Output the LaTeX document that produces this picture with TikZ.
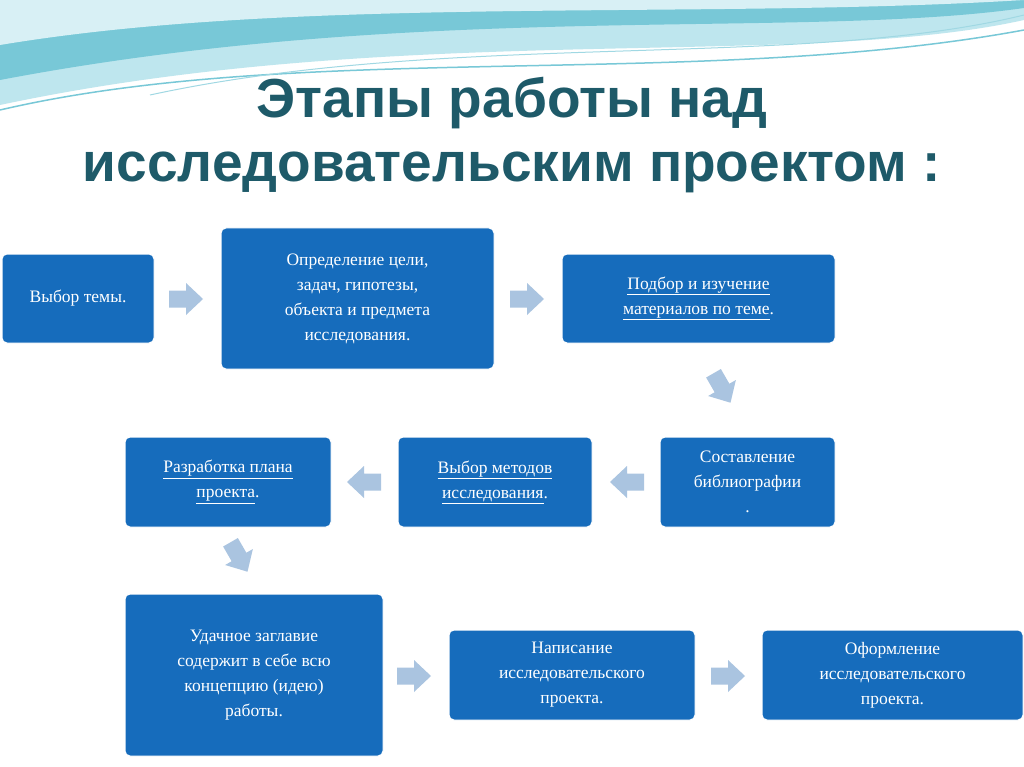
\documentclass[tikz,border=0pt]{standalone}
\usepackage{fontspec}
\setmainfont{Liberation Serif}
\newfontfamily\titlefont{Liberation Sans}
\definecolor{boxblue}{RGB}{22,108,188}
\definecolor{arrowc}{RGB}{170,196,224}
\definecolor{titlec}{RGB}{30,90,105}
\definecolor{waveA}{RGB}{120,200,215}
\definecolor{waveB}{RGB}{190,230,238}
\tikzset{
 stage/.style={draw=white,line width=1pt,fill=boxblue,rounded corners=5pt,text=white,font=\fontsize{17.5}{25}\selectfont,align=center,inner sep=0pt},
 chev/.style={fill=arrowc}
}
\newcommand{\chevron}[3]{\fill[chev,shift={(#1,#2)},rotate=#3] (-17,-8.5) -- (0,-8.5) -- (0,-16) -- (17,0) -- (0,16) -- (0,8.5) -- (-17,8.5) -- cycle;}
\begin{document}
\begin{tikzpicture}[x=1pt,y=-1pt]
\useasboundingbox (0,0) rectangle (1024,767);
\fill[white] (0,0) rectangle (1024,767);
% waves
\fill[waveB] (0,0) -- (1024,0) -- (1024,20) .. controls (800,70) and (400,20) .. (0,105) -- cycle;
\fill[waveA] (0,0) -- (1024,0) -- (1024,8) .. controls (800,40) and (420,0) .. (0,80) -- cycle;
\fill[waveB!60] (0,0) -- (1024,0) .. controls (700,20) and (300,-5) .. (0,45) -- cycle;
\draw[waveA,line width=1.5pt] (0,110) .. controls (300,40) and (700,90) .. (1024,30);
\draw[waveA!70,line width=1pt] (150,95) .. controls (450,30) and (800,70) .. (1024,15);
% title
\node (t1) at (512,103) {\titlefont\bfseries\fontsize{55}{62}\selectfont\color{titlec}Этапы работы над};
\node (t2) at (512,172) {\titlefont\bfseries\fontsize{55}{62}\selectfont\color{titlec}исследовательским проектом :};
% boxes
\node[stage,minimum width=152pt,minimum height=89pt] (b1) at (78,298.5) {Выбор темы.};
\node[stage,minimum width=273pt,minimum height=141pt] (b2) at (357.5,298.5) {Определение цели,\\задач, гипотезы,\\объекта и предмета\\исследования.};
\node[stage,minimum width=273pt,minimum height=89pt] (b3) at (698.5,298.5) {\underline{Подбор и изучение}\\\underline{материалов по теме}.};
\node[stage,minimum width=175pt,minimum height=90pt] (b4) at (747.5,482) {Составление\\библиографии\\.};
\node[stage,minimum width=194pt,minimum height=90pt] (b5) at (495,482) {\underline{Выбор методов}\\\underline{исследования}.};
\node[stage,minimum width=206pt,minimum height=90pt] (b6) at (228,482) {\underline{Разработка плана}\\\underline{проекта}.};
\node[stage,minimum width=258pt,minimum height=162pt] (b7) at (254,675) {Удачное заглавие\\содержит в себе всю\\концепцию (идею)\\работы.};
\node[stage,minimum width=246pt,minimum height=90pt] (b8) at (572,675) {Написание\\исследовательского\\проекта.};
\node[stage,minimum width=261pt,minimum height=90pt] (b9) at (892.5,675) {Оформление\\исследовательского\\проекта.};
% chevrons
\chevron{186}{299}{0}
\chevron{527}{299}{0}
\chevron{722}{388}{-60}
\chevron{627}{482}{180}
\chevron{364}{482}{180}
\chevron{239}{557}{-60}
\chevron{414}{676}{0}
\chevron{728}{676}{0}
\end{tikzpicture}
\end{document}
